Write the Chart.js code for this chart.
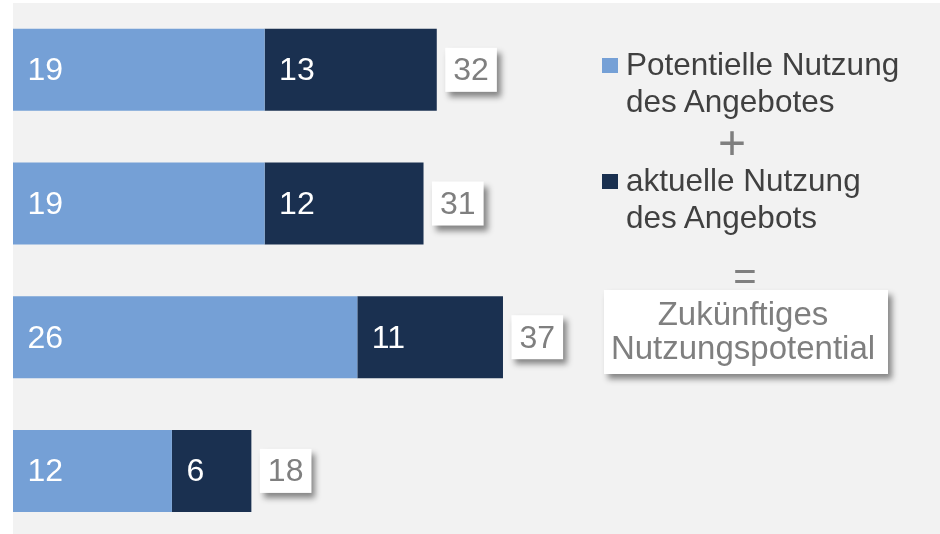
<!DOCTYPE html>
<html>
<head>
<meta charset="utf-8">
<script src="https://cdn.jsdelivr.net/npm/chart.js@4"></script>
<style>
    html, body { margin: 0; padding: 0; background: #ffffff; overflow: hidden; }
    body { width: 940px; height: 534px; position: relative; font-family: "Liberation Sans", Arial, sans-serif; }
    #panel { position: absolute; left: 13px; top: 3px; width: 927px; height: 531px; background: #f2f2f2; }
    #holder { position: absolute; left: 0; top: 0; width: 940px; height: 540px; }
    .lg { position: absolute; white-space: nowrap; color: #404040; font-size: 31.5px; line-height: 37px; }
    .sw { position: absolute; width: 16px; height: 15px; }
    .op { position: absolute; color: #7f7f7f; line-height: 1; transform: translate(-50%, -50%); }
    #result { position: absolute; left: 604px; top: 290px; width: 284px; height: 84px; background: #ffffff;
              box-shadow: 4px 5px 6px rgba(0,0,0,0.45); color: #7f7f7f; font-size: 33px; line-height: 34px;
              text-align: center; box-sizing: border-box; padding-top: 7px; padding-right: 6px; }
</style>
</head>
<body>
<div id="panel"></div>
<div id="holder"><canvas id="chart" width="940" height="540"></canvas></div>

<div class="sw" id="sw0" style="left:602px; top:58px;"></div>
<div class="lg" id="lg0" style="left:626px; top:46px;"></div>
<div class="op" style="left:732px; top:143px; font-size:48px;">+</div>
<div class="sw" id="sw1" style="left:602px; top:174px;"></div>
<div class="lg" id="lg1" style="left:626px; top:162px;"></div>
<div class="op" style="left:745px; top:276px; font-size:40px;">=</div>
<div id="result"></div>

<script>
// Data
const categories = ['1', '2', '3', '4'];
const potentielle = [19, 19, 26, 12];
const aktuelle = [13, 12, 11, 6];
const seriesNames = ['Potentielle Nutzung\ndes Angebotes', 'aktuelle Nutzung\ndes Angebots'];
const resultLabel = 'Zukünftiges\nNutzungspotential';

const COLORS = ['#75a0d6', '#1a3050'];
const FONT = '"Liberation Sans", Arial, sans-serif';

// Legend (right hand side)
seriesNames.forEach((name, i) => {
    document.getElementById('lg' + i).innerHTML = name.split('\n').join('<br>');
    document.getElementById('sw' + i).style.background = COLORS[i];
});
document.getElementById('result').innerHTML = resultLabel.split('\n').join('<br>');

/**
 * Draws values inside segments and the total in a white box with shadow
 */
const barLabels = {
    id: 'barLabels',
    afterDatasetsDraw(chart) {
        const ctx = chart.ctx;
        ctx.save();
        ctx.textBaseline = 'middle';
        ctx.textAlign = 'left';
        ctx.font = '32px ' + FONT;

        chart.data.datasets.forEach((ds, di) => {
            const meta = chart.getDatasetMeta(di);
            meta.data.forEach((bar, i) => {
                const left = Math.min(bar.base, bar.x);
                ctx.fillStyle = '#ffffff';
                ctx.fillText(String(ds.data[i]), left + 14.5, bar.y + 1.5);
            });
        });

        // Totals
        const lastMeta = chart.getDatasetMeta(chart.data.datasets.length - 1);
        lastMeta.data.forEach((bar, i) => {
            const total = chart.data.datasets.reduce((s, ds) => s + ds.data[i], 0);
            const txt = String(total);
            const w = ctx.measureText(txt).width + 16;
            const h = 44;
            const bx = bar.x + 8.5;
            const by = bar.y - h / 2;
            ctx.save();
            ctx.shadowColor = 'rgba(0,0,0,0.45)';
            ctx.shadowBlur = 6;
            ctx.shadowOffsetX = 4;
            ctx.shadowOffsetY = 5;
            ctx.fillStyle = '#ffffff';
            ctx.fillRect(bx, by, w, h);
            ctx.restore();
            ctx.fillStyle = '#7f7f7f';
            ctx.fillText(txt, bx + 8, bar.y + 1.5);
        });
        ctx.restore();
    }
};

new Chart(document.getElementById('chart'), {
    type: 'bar',
    data: {
        labels: categories,
        datasets: [
            {
                label: seriesNames[0],
                data: potentielle,
                backgroundColor: COLORS[0],
                borderWidth: 0,
                barPercentage: 0.613,
                categoryPercentage: 1,
            },
            {
                label: seriesNames[1],
                data: aktuelle,
                backgroundColor: COLORS[1],
                borderWidth: 0,
                barPercentage: 0.613,
                categoryPercentage: 1,
            }
        ]
    },
    options: {
        indexAxis: 'y',
        responsive: false,
        animation: false,
        layout: { padding: { left: 13, right: 0, top: 3, bottom: 2.25 } },
        scales: {
            x: { stacked: true, min: 0, max: 70, display: false },
            y: { stacked: true, display: false }
        },
        plugins: {
            legend: { display: false },
            tooltip: { enabled: false }
        }
    },
    plugins: [barLabels]
});
</script>
</body>
</html>
